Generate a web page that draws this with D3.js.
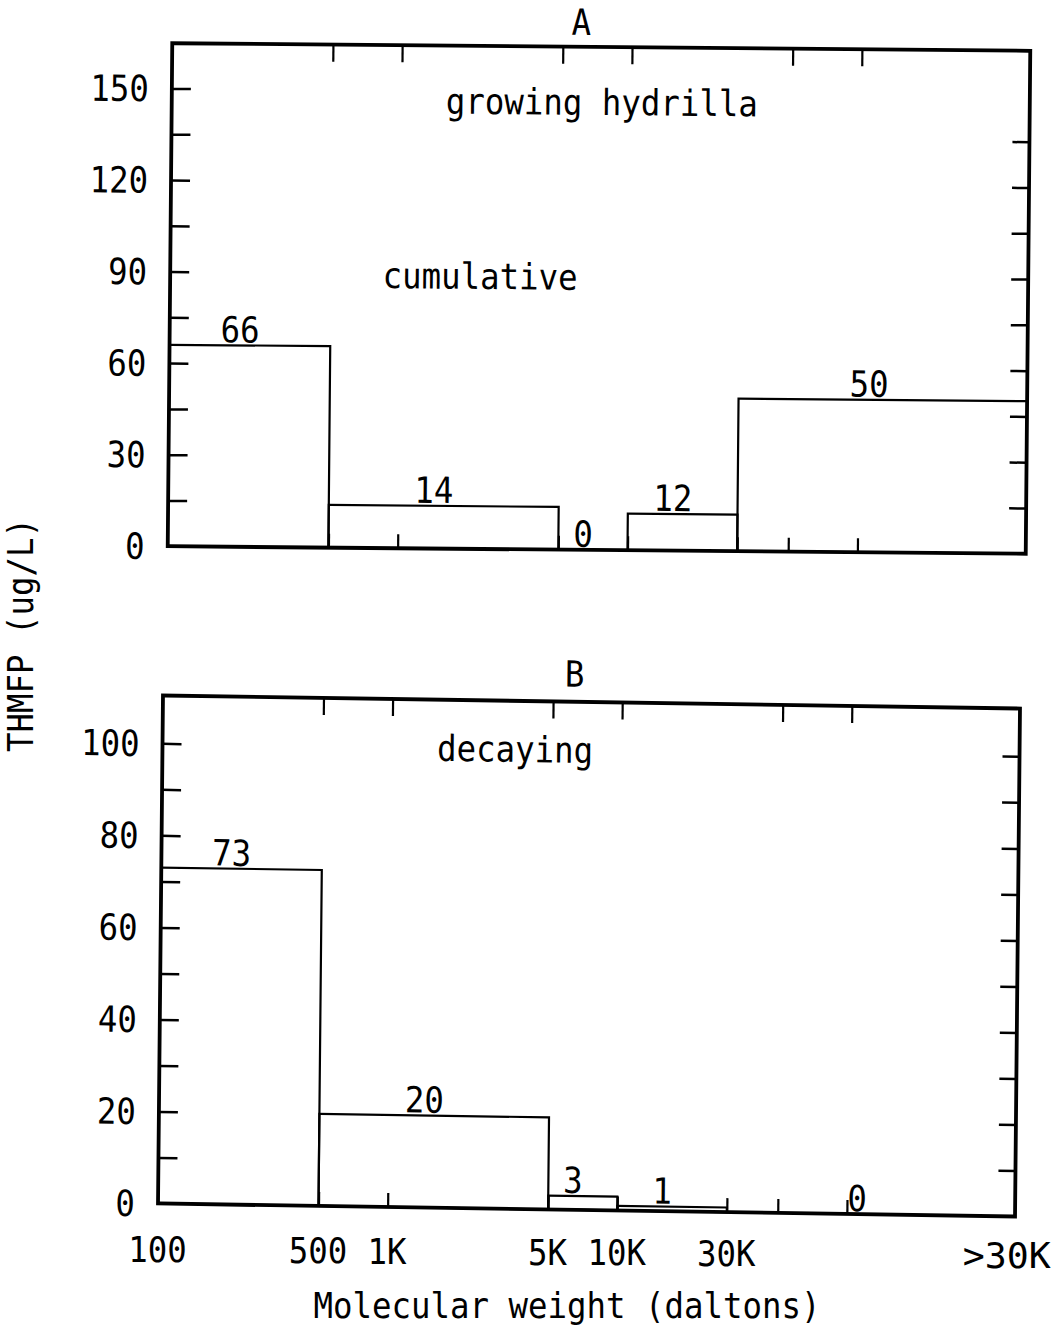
<!DOCTYPE html>
<html>
<head>
<meta charset="utf-8">
<script src="https://cdn.jsdelivr.net/npm/d3@7"></script>
<style>
  body { margin: 0; background: #fff; }
  svg text { font-family: "DejaVu Sans Mono", monospace; fill: #000; }
</style>
</head>
<body>
<svg id="chart" width="1057" height="1329"></svg>
<script>
// Molecular-weight fractions (daltons): bin boundaries, last bin is ">30K"
const binEdges = [100, 500, 5000, 10000, 30000, 540000];

// THMFP (ug/L) in each fraction
const growingValues  = [66, 14, 0, 12, 50];
const decayingValues = [73, 20, 3, 1, 0];

// Bottom axis labels
const xLabelValues = [100, 500, 1000, 5000, 10000, 30000, 500000];
const xLabelTexts  = ["100", "500", "1K", "5K", "10K", "30K", ">30K"];

// Frame tick marks on the log axis
const topTickValues    = [500, 1000, 5000, 10000, 50000, 100000];
const bottomTickValues = [500, 1000, 5000, 10000, 30000, 50000, 100000];

// Y axes
const yLabelsA = [0, 30, 60, 90, 120, 150];
const yLabelsB = [0, 20, 40, 60, 80, 100];

const svg = d3.select("#chart");
const FONT = 36;      // tall, narrow plotter-style lettering
const ADV = 19.5;     // character advance

// apply the condensed lettering to a text selection
function letter(sel, adv = ADV) {
  sel.attr("font-size", FONT)
    .attr("lengthAdjust", "spacingAndGlyphs")
    .attr("textLength", function () { return this.textContent.length * adv; });
  return sel;
}

function panel(cfg) {
  const { L, R, T, B, yMax, values, labels, minorTicks, rightTicks, sa, sb } = cfg;
  const cx = (L + R) / 2, cy = (T + B) / 2;
  const g = svg.append("g")
    .attr("transform", `translate(${cx},${cy}) matrix(1,${sa},${-sb},1,0,0) translate(${-cx},${-cy})`);

  const x = d3.scaleLog().domain([100, 540000]).range([L, R]);
  const y = d3.scaleLinear().domain([0, yMax]).range([B, T]);

  // bars (outlined histogram steps)
  const bins = values.map((v, i) => ({ v, x0: binEdges[i], x1: binEdges[i + 1] }));
  g.selectAll("rect.bar").data(bins.filter(d => d.v > 0)).join("rect")
    .attr("class", "bar")
    .attr("x", d => x(d.x0))
    .attr("y", d => y(d.v))
    .attr("width", d => x(d.x1) - x(d.x0))
    .attr("height", d => y(0) - y(d.v))
    .attr("fill", "none")
    .attr("stroke", "#000")
    .attr("stroke-width", 2.2);

  // value labels
  g.selectAll("text.val").data(bins).join("text")
    .attr("class", "val")
    .attr("x", d => (x(d.x0) + x(Math.min(d.x1, 500000))) / 2 - 10)
    .attr("y", d => y(d.v) - 3)
    .attr("text-anchor", "middle")
    .text(d => d.v)
    .call(letter);

  // left axis: inward ticks
  const left = g.append("g").attr("transform", `translate(${L},0)`)
    .call(d3.axisLeft(y).tickValues(minorTicks).tickSize(-19).tickFormat(""));
  left.select(".domain").remove();
  left.selectAll("line").attr("stroke", "#000").attr("stroke-width", 2.5);

  // left axis labels
  g.selectAll("text.ylab").data(labels).join("text")
    .attr("class", "ylab")
    .attr("x", L - 23)
    .attr("y", d => y(d) + 13)
    .attr("text-anchor", "end")
    .text(d => d)
    .call(letter);

  // right axis ticks
  const right = g.append("g").attr("transform", `translate(${R},0)`)
    .call(d3.axisRight(y).tickValues(rightTicks).tickSize(-17).tickFormat(""));
  right.select(".domain").remove();
  right.selectAll("line").attr("stroke", "#000").attr("stroke-width", 2.5);

  // top ticks
  const top = g.append("g").attr("transform", `translate(0,${T})`)
    .call(d3.axisTop(x).tickValues(topTickValues).tickSize(-17).tickFormat(""));
  top.select(".domain").remove();
  top.selectAll("line").attr("stroke", "#000").attr("stroke-width", 2.2);

  // bottom ticks
  const bottom = g.append("g").attr("transform", `translate(0,${B})`)
    .call(d3.axisBottom(x).tickValues(bottomTickValues).tickSize(-14).tickFormat(""));
  bottom.select(".domain").remove();
  bottom.selectAll("line").attr("stroke", "#000").attr("stroke-width", 2.2);

  // frame
  g.append("rect")
    .attr("x", L).attr("y", T).attr("width", R - L).attr("height", B - T)
    .attr("fill", "none").attr("stroke", "#000").attr("stroke-width", 3.8);

  return { g, x, y, sb, cy };
}

// Panel A: growing hydrilla
const A = panel({
  L: 170, R: 1028, T: 47, B: 550, yMax: 164.8,
  values: growingValues, labels: yLabelsA,
  minorTicks: d3.range(15, 151, 15),
  rightTicks: d3.range(15, 136, 15),
  sa: 0.0088, sb: 0.009
});
A.g.append("text").attr("x", 579).attr("y", 35).attr("text-anchor", "middle").text("A").call(letter);
A.g.append("text").attr("x", 600).attr("y", 115).attr("text-anchor", "middle").text("growing hydrilla").call(letter);
A.g.append("text").attr("x", 480).attr("y", 290).attr("text-anchor", "middle").text("cumulative").call(letter);

// Panel B: decaying hydrilla
const Bp = panel({
  L: 160.5, R: 1017.5, T: 702, B: 1210, yMax: 110.4,
  values: decayingValues, labels: yLabelsB,
  minorTicks: d3.range(10, 101, 10),
  rightTicks: d3.range(10, 101, 10),
  sa: 0.0152, sb: 0.0098
});
Bp.g.append("text").attr("x", 572).attr("y", 687).attr("text-anchor", "middle").text("B").call(letter);
Bp.g.append("text").attr("x", 513).attr("y", 763).attr("text-anchor", "middle").text("decaying").call(letter);

// Molecular weight labels under panel B
svg.selectAll("text.xlab").data(xLabelValues).join("text")
  .attr("class", "xlab")
  .attr("x", d => Bp.x(d) - 3)
  .attr("y", d => 1262 + 0.007 * (Bp.x(d) - 158))
  .attr("text-anchor", "middle")
  .text((d, i) => xLabelTexts[i])
  .each(function () {
    const s = d3.select(this);
    letter(s, this.textContent.startsWith(">") ? 22 : ADV);
  });

svg.append("text").attr("x", 567).attr("y", 1318).attr("text-anchor", "middle")
  .text("Molecular weight (daltons)").call(letter);

// Shared y-axis title
svg.append("text")
  .attr("transform", "translate(33,635) rotate(-90)")
  .attr("text-anchor", "middle")
  .text("THMFP (ug/L)")
  .call(letter);
</script>
</body>
</html>
